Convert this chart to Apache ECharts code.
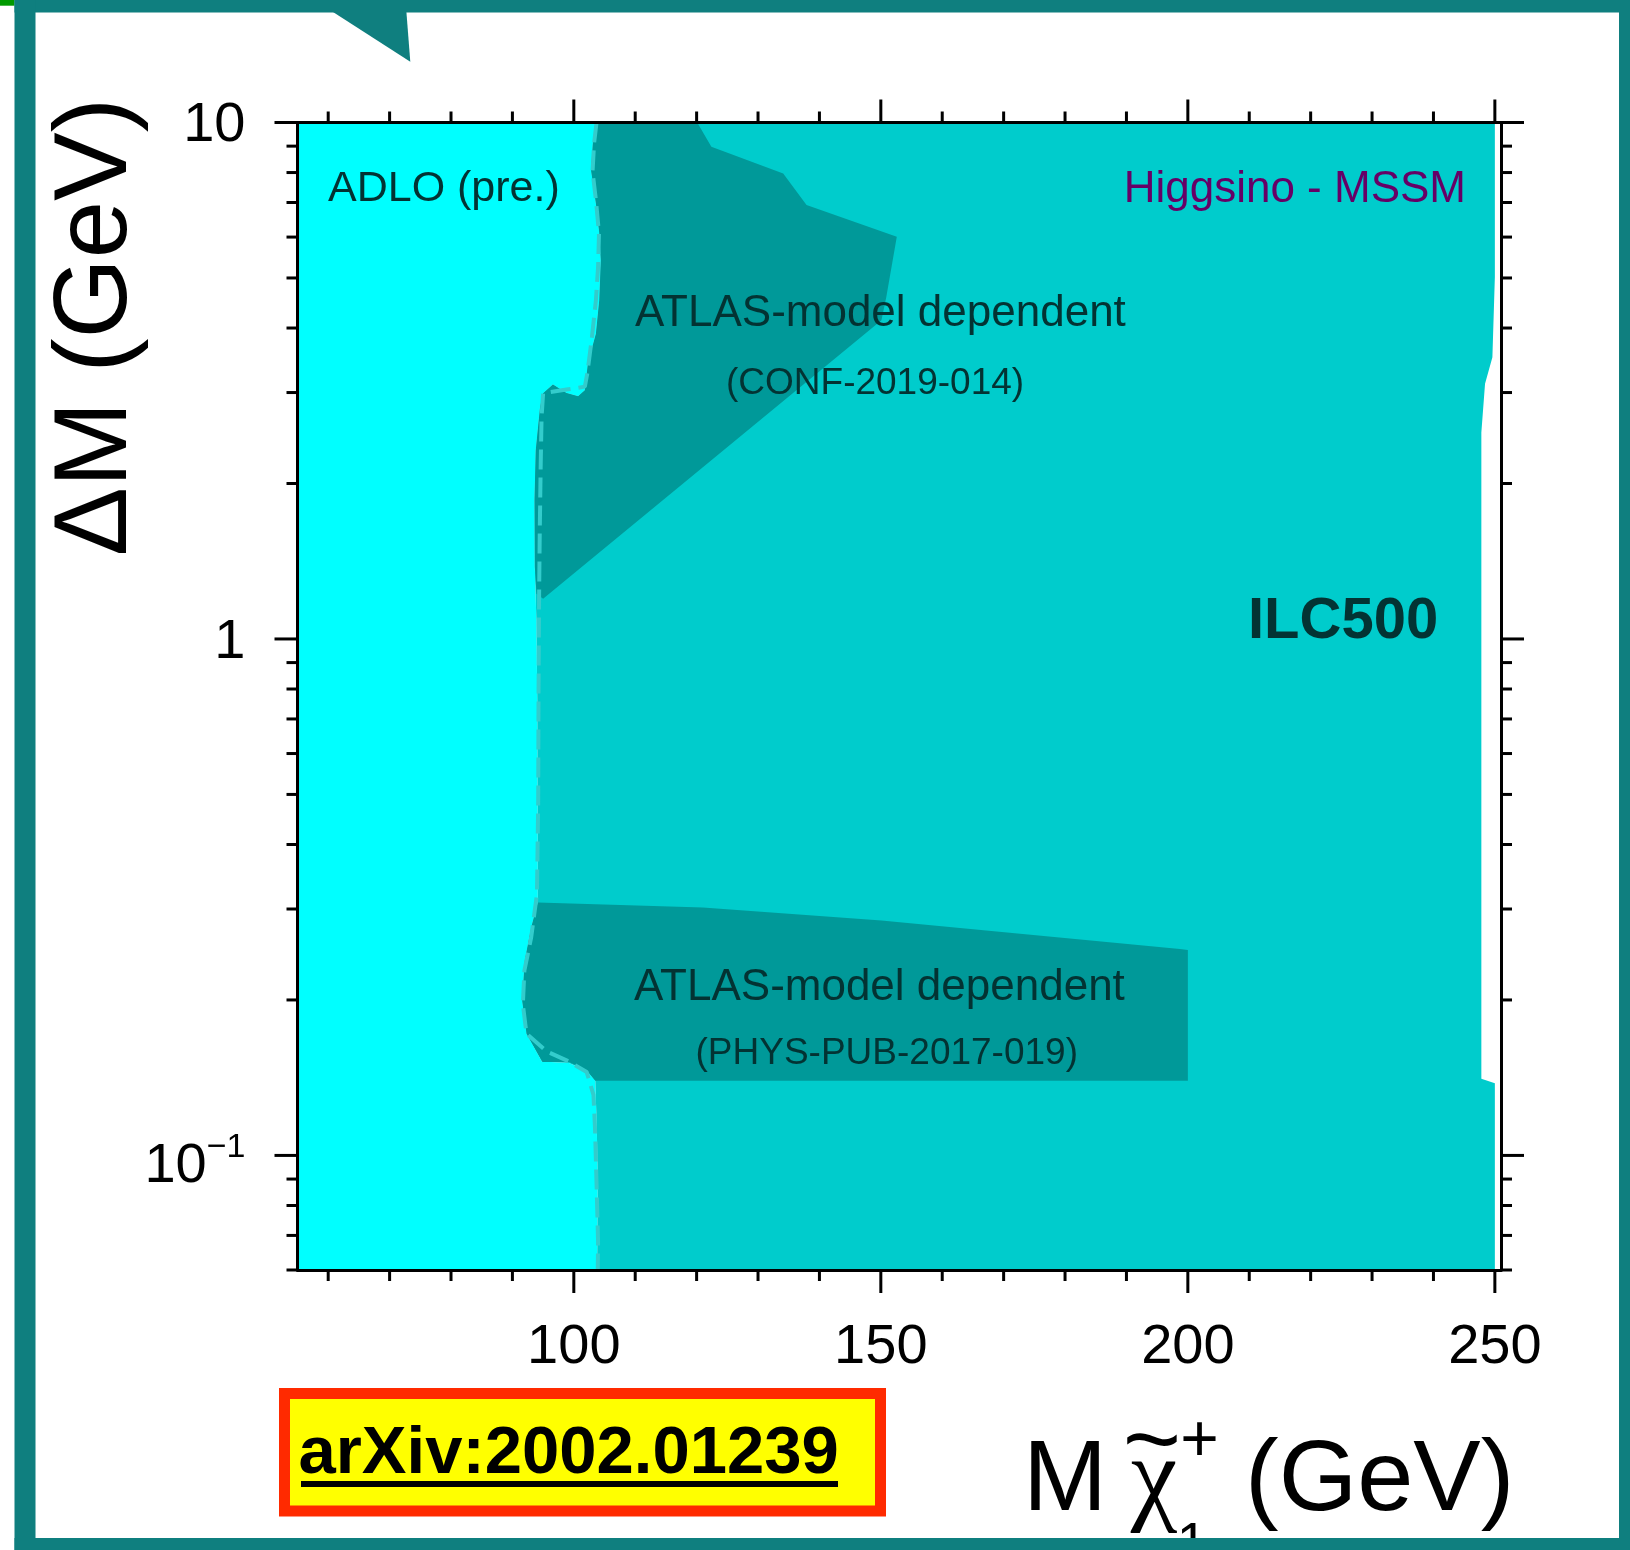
<!DOCTYPE html>
<html>
<head>
<meta charset="utf-8">
<script src="https://cdn.jsdelivr.net/npm/echarts@6/dist/echarts.min.js"></script>
<style>
  html, body { margin: 0; padding: 0; background: #fff; }
  #chart { width: 1630px; height: 1550px; }
</style>
</head>
<body>
<div id="chart"></div>
<script>
// ---- axis ranges (chargino mass in GeV, mass splitting in GeV) ----
const xRange = [55, 251];
const yRange = [0.06, 10];

// ---- tick values and labels ----
const xMajorTicks = [100, 150, 200, 250];
const xMinorTicks = [60, 70, 80, 90, 110, 120, 130, 140, 160, 170, 180, 190, 210, 220, 230, 240];
const yMajorTicks = [0.1, 1, 10];
const yTickBase = ['10', '1', '10'];
const yTickExp = ['\u22121', '', ''];
const yMinorTicks = [0.06, 0.07, 0.08, 0.09, 0.2, 0.3, 0.4, 0.5, 0.6, 0.7, 0.8, 0.9,
                     2, 3, 4, 5, 6, 7, 8, 9];

// ---- LEP (ADLO) exclusion boundary, top to bottom [M, dM] ----
const lepBoundary = [
  [103.6, 10], [103.1, 9.11], [102.8, 8.09], [103.6, 6.97], [104.15, 6.10], [104.4, 5.41],
  [104.15, 4.53], [103.6, 3.90], [102.3, 3.42], [101.8, 3.03], [100.7, 2.95], [98.8, 2.995],
  [96.6, 3.11], [95.0, 2.99], [94.5, 2.81], [93.8, 2.32], [93.6, 1.86], [93.65, 1.38],
  [93.9, 1.09], [94.05, 0.76], [94.1, 0.49], [94.14, 0.309], [93.05, 0.276], [92.0, 0.238],
  [91.6, 0.199], [92.3, 0.172], [94.8, 0.152], [99.2, 0.151], [102.1, 0.146], [103.5, 0.1395],
  [103.75, 0.112], [103.9, 0.089], [103.8, 0.06]
];

// ---- ILC500 reach, right edge from bottom to top ----
const ilcRightEdge = [
  [250, 0.06], [250, 0.138], [247.8, 0.1407], [247.8, 2.51], [248.4, 3.12],
  [249.6, 3.51], [250, 5.02], [250, 10]
];

// ---- ATLAS CONF-2019-014 excluded region ----
const atlasConf = [
  [103.6, 10], [103.1, 9.11], [102.8, 8.09], [103.6, 6.97], [104.15, 6.10], [104.4, 5.41],
  [104.15, 4.53], [103.6, 3.90], [102.3, 3.42], [101.8, 3.03], [100.7, 2.95], [98.8, 2.995],
  [96.6, 3.11], [95.0, 2.99], [94.5, 2.81], [93.8, 2.32], [93.6, 1.86], [93.65, 1.38],
  [93.92, 1.223], [95.0, 1.197], [150.1, 4.14], [150.9, 4.60], [152.6, 6.01], [137.9, 6.92],
  [134.1, 7.97], [122.4, 8.98], [120.1, 10]
];

// ---- ATLAS PHYS-PUB-2017-019 excluded band ----
const atlasPhysPub = [
  [94.14, 0.309], [121.0, 0.302], [150.1, 0.285], [198.7, 0.251], [200, 0.250],
  [200, 0.1395], [103.5, 0.1395], [102.1, 0.146], [99.2, 0.1516], [94.9, 0.1516],
  [92.3, 0.172], [91.6, 0.199], [92.0, 0.238], [93.05, 0.276]
];

// ---- LEP limit (dashed curve) ----
const lepLimit = [
  [103.7, 10], [103.3, 9.11], [103.05, 8.03], [103.6, 7.08], [104.1, 6.10], [103.95, 5.25],
  [103.6, 4.53], [102.9, 3.79], [102.2, 3.27], [101.8, 3.08], [98.8, 3.04], [95.0, 2.99],
  [94.75, 2.69], [94.6, 2.15], [94.45, 1.60], [94.35, 1.22], [94.25, 0.76], [94.2, 0.486],
  [94.0, 0.321], [93.05, 0.264], [91.95, 0.228], [91.7, 0.196], [92.3, 0.172], [95.6, 0.159],
  [99.2, 0.152], [102.1, 0.145], [103.2, 0.131], [103.45, 0.113], [103.75, 0.084],
  [103.95, 0.068], [103.9, 0.06]
];

const FONT = '"Liberation Sans", Arial, Helvetica, sans-serif';
const SERIF = '"Liberation Serif", "Times New Roman", serif';
const FRAME = '#0f7f7f';
const TEXT_DARK = '#033333';

const adloRegion = [[xRange[0], yRange[1]]].concat(lepBoundary, [[xRange[0], yRange[0]]]);
const ilcRegion = lepBoundary.concat(ilcRightEdge);

function regionSeries(name, points, color, z) {
  return {
    type: 'custom',
    name: name,
    coordinateSystem: 'cartesian2d',
    data: points,
    z: z,
    silent: true,
    renderItem: function (params, api) {
      if (params.dataIndex !== 0) return null;
      return {
        type: 'polygon',
        shape: { points: points.map(function (p) { return api.coord(p); }) },
        style: { fill: color, stroke: null }
      };
    }
  };
}

function xTickSeries(values, len) {
  return {
    type: 'custom',
    coordinateSystem: 'cartesian2d',
    data: values.map(function (v) { return [v, yRange[0]]; }),
    z: 12,
    silent: true,
    renderItem: function (params, api) {
      const v = api.value(0);
      const b = api.coord([v, yRange[0]]);
      const t = api.coord([v, yRange[1]]);
      return {
        type: 'group',
        children: [
          { type: 'line', shape: { x1: b[0], y1: b[1], x2: b[0], y2: b[1] + len }, style: { stroke: '#000', lineWidth: 3 } },
          { type: 'line', shape: { x1: t[0], y1: t[1], x2: t[0], y2: t[1] - len }, style: { stroke: '#000', lineWidth: 3 } }
        ]
      };
    }
  };
}

function yTickSeries(values, len, withLabel) {
  return {
    type: 'custom',
    coordinateSystem: 'cartesian2d',
    data: values.map(function (v) { return [xRange[0], v]; }),
    z: 12,
    silent: true,
    renderItem: function (params, api) {
      const v = api.value(1);
      const l = api.coord([xRange[0], v]);
      const r = api.coord([xRange[1], v]);
      const children = [
        { type: 'line', shape: { x1: l[0], y1: l[1], x2: l[0] - len, y2: l[1] }, style: { stroke: '#000', lineWidth: 3 } },
        { type: 'line', shape: { x1: r[0], y1: r[1], x2: r[0] + len, y2: r[1] }, style: { stroke: '#000', lineWidth: 3 } }
      ];
      if (withLabel) {
        const i = params.dataIndex;
        const exp = yTickExp[i];
        children.push({
          type: 'text',
          x: l[0] - 52,
          y: l[1] + (exp ? 7 : 3.5),
          style: {
            text: exp ? '{b|' + yTickBase[i] + '}{s|' + exp + '}' : '{b|' + yTickBase[i] + '}',
            rich: {
              b: { fontSize: 56, fontFamily: FONT, fill: '#000', lineHeight: exp ? 64 : 56, verticalAlign: 'bottom' },
              s: { fontSize: 34, fontFamily: FONT, fill: '#000', lineHeight: 34, verticalAlign: 'top' }
            },
            align: 'right', verticalAlign: 'middle',
            textAlign: 'right', textVerticalAlign: 'middle'
          }
        });
      }
      return { type: 'group', children: children };
    }
  };
}

function txt(text, x, y, font, fill, align, extra) {
  const el = {
    type: 'text', x: x, y: y, z: 100, silent: true,
    style: {
      text: text, font: font, fill: fill,
      align: align || 'left', textAlign: align || 'left',
      verticalAlign: 'middle', textVerticalAlign: 'middle'
    }
  };
  return Object.assign(el, extra || {});
}

function rect(x, y, w, h, fill, z) {
  return { type: 'rect', shape: { x: x, y: y, width: w, height: h }, style: { fill: fill }, z: z || 100, silent: true };
}

const axisLine = { show: true, onZero: false, lineStyle: { color: '#000', width: 3 } };

const option = {
  backgroundColor: '#ffffff',
  animation: false,
  grid: { left: 297.5, top: 122.5, width: 1203.5, height: 1147.5, show: false },
  xAxis: [
    {
      type: 'value', min: xRange[0], max: xRange[1], position: 'bottom', z: 10,
      axisLine: axisLine,
      axisTick: { show: false },
      splitLine: { show: false },
      axisLabel: {
        customValues: xMajorTicks, margin: 50,
        fontSize: 56, fontFamily: FONT, color: '#000'
      }
    },
    {
      type: 'value', min: xRange[0], max: xRange[1], position: 'top', z: 10,
      axisLine: axisLine, axisTick: { show: false }, axisLabel: { show: false }, splitLine: { show: false }
    }
  ],
  yAxis: [
    {
      type: 'log', logBase: 10, min: yRange[0], max: yRange[1], position: 'left', z: 10,
      axisLine: axisLine, axisTick: { show: false }, axisLabel: { show: false }, splitLine: { show: false }
    },
    {
      type: 'log', logBase: 10, min: yRange[0], max: yRange[1], position: 'right', z: 10,
      axisLine: axisLine, axisTick: { show: false }, axisLabel: { show: false }, splitLine: { show: false }
    }
  ],
  series: [
    regionSeries('ADLO (pre.)', adloRegion, '#00ffff', 1),
    regionSeries('ILC500', ilcRegion, '#00cccc', 2),
    regionSeries('ATLAS CONF-2019-014', atlasConf, '#009999', 3),
    regionSeries('ATLAS PHYS-PUB-2017-019', atlasPhysPub, '#009999', 3),
    {
      type: 'line', name: 'LEP limit', data: lepLimit, z: 4, silent: true,
      symbol: 'none', showSymbol: false,
      lineStyle: { color: '#33cccc', width: 4, type: [20, 8] }
    },
    xTickSeries(xMajorTicks, 23),
    xTickSeries(xMinorTicks, 11),
    yTickSeries(yMajorTicks, 23, true),
    yTickSeries(yMinorTicks, 11, false)
  ],
  graphic: {
    elements: [
      // plot annotations
      txt('ADLO (pre.)', 328, 189, '43px ' + FONT, TEXT_DARK),
      txt('Higgsino - MSSM', 1466, 190, '44px ' + FONT, '#660066', 'right'),
      txt('ATLAS-model dependent', 635, 314, '44px ' + FONT, TEXT_DARK),
      txt('(CONF-2019-014)', 726, 384, '37px ' + FONT, TEXT_DARK),
      txt('ATLAS-model dependent', 634, 988, '44px ' + FONT, TEXT_DARK),
      txt('(PHYS-PUB-2017-019)', 695.5, 1054, '37px ' + FONT, TEXT_DARK),
      txt('ILC500', 1248, 622, 'bold 58px ' + FONT, TEXT_DARK),

      // y-axis title
      txt('\u0394M (GeV)', 98, 327, '103px ' + FONT, '#000', 'center', { rotation: Math.PI / 2 }),

      // x-axis title: M chi~_1^+ (GeV)
      txt('M', 1023, 1482, '101px ' + FONT, '#000'),
      txt('\u03c7', 1154, 1482, '105px ' + SERIF, '#000', 'center'),
      txt('~', 1152, 1445, '100px ' + FONT, '#000', 'center'),
      txt('+', 1199.5, 1443, '66px ' + FONT, '#000', 'center'),
      txt('1', 1192, 1546, '55px ' + FONT, '#000', 'center'),
      txt('(GeV)', 1245, 1482, '101px ' + FONT, '#000'),

      // arXiv reference box
      {
        type: 'rect', z: 100, silent: true,
        shape: { x: 284.5, y: 1393.5, width: 596, height: 117.5 },
        style: { fill: '#ffff00', stroke: '#ff2a00', lineWidth: 11 }
      },
      txt('arXiv:2002.01239', 298.5, 1455, 'bold 67px ' + FONT, '#000'),
      rect(301, 1481, 537, 6, '#000', 101),

      // page frame
      rect(0, 0, 14.5, 5.7, '#009a00', 110),
      rect(14.5, 0, 1615.5, 12.6, FRAME, 110),
      rect(14.5, 0, 21, 1550, FRAME, 110),
      rect(1619, 0, 11, 1550, FRAME, 110),
      rect(14.5, 1538, 1615.5, 12, FRAME, 110),
      {
        type: 'polygon', z: 110, silent: true,
        shape: { points: [[333, 12], [406.4, 12], [410.3, 61.7]] },
        style: { fill: FRAME }
      }
    ]
  }
};

const chart = echarts.init(document.getElementById('chart'), null, { renderer: 'canvas', width: 1630, height: 1550 });
chart.setOption(option);
</script>
</body>
</html>
